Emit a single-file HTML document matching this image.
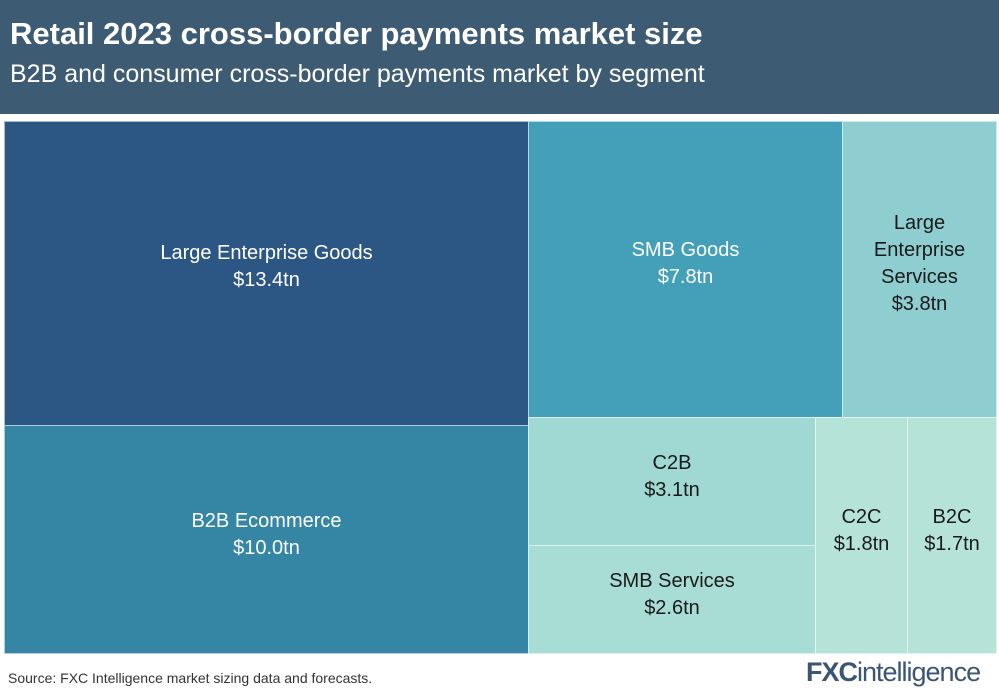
<!DOCTYPE html><html><head><style>
body{margin:0;width:999px;height:698px;background:#fff;position:relative;overflow:hidden;font-family:"Liberation Sans",sans-serif}
.h{position:absolute;left:0;top:0;width:999px;height:114px;background:#3e5b74;color:#fff}
.t{position:absolute;left:10px;top:16px;font-size:31px;font-weight:bold}
.s{position:absolute;left:10px;top:60px;font-size:25px}
.b{position:absolute;box-sizing:border-box;border:1px solid rgba(255,255,255,.6);display:flex;align-items:center;justify-content:center;text-align:center;font-size:20px;line-height:27px;padding-bottom:10px}
.w{color:#fff}.k{color:#1a1a1a}
.src{position:absolute;left:8px;top:670px;font-size:14px;color:#333}
.logo{position:absolute;left:806px;top:657px;font-size:27px;font-weight:bold;color:#3b5675;letter-spacing:-1px}
</style></head><body>
<div class="h"><div class="t">Retail 2023 cross-border payments market size</div><div class="s">B2B and consumer cross-border payments market by segment</div></div>
<div class="b w" style="left:4px;top:121px;width:525px;height:305px;background:#2c5784;padding-bottom:14px">Large Enterprise Goods<br>$13.4tn</div>
<div class="b w" style="left:4px;top:425px;width:525px;height:229px;background:#3585a5">B2B Ecommerce<br>$10.0tn</div>
<div class="b w" style="left:528px;top:121px;width:315px;height:297px;background:#43a0b8;padding-bottom:12px">SMB Goods<br>$7.8tn</div>
<div class="b k" style="left:842px;top:121px;width:155px;height:297px;background:#8ecdd0;padding-bottom:12px">Large<br>Enterprise<br>Services<br>$3.8tn</div>
<div class="b k" style="left:528px;top:417px;width:288px;height:129px;background:#a0d8d4;padding-bottom:10px">C2B<br>$3.1tn</div>
<div class="b k" style="left:528px;top:545px;width:288px;height:109px;background:#a8ddd6">SMB Services<br>$2.6tn</div>
<div class="b k" style="left:815px;top:417px;width:93px;height:237px;background:#b6e3d8">C2C<br>$1.8tn</div>
<div class="b k" style="left:907px;top:417px;width:90px;height:237px;background:#b6e3d8">B2C<br>$1.7tn</div>
<div class="src">Source: FXC Intelligence market sizing data and forecasts.</div>
<div class="logo">FXC<span style="font-weight:normal">intelligence</span></div>
</body></html>
